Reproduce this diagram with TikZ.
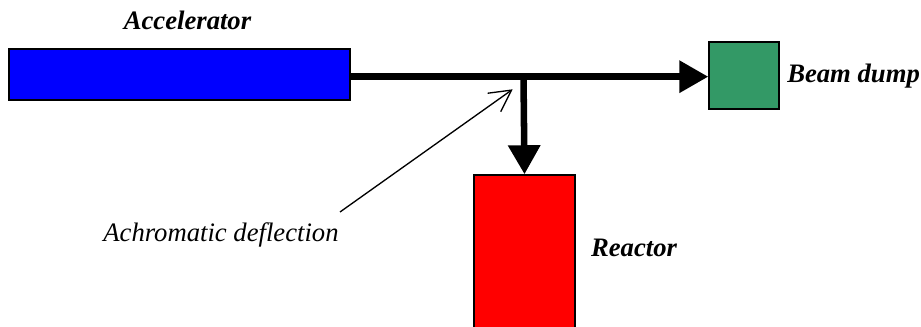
\documentclass[tikz,border=0pt]{standalone}
\usepackage{fontspec}
\setmainfont{Liberation Serif}
\usetikzlibrary{arrows.meta}
\definecolor{accblue}{HTML}{0000FF}
\definecolor{dumpgreen}{HTML}{339966}
\definecolor{reactred}{HTML}{FF0000}
\tikzset{
  box/.style={draw=black, line width=1.1pt, inner sep=0pt, rectangle},
  lbl/.style={font=\fontsize{20}{24}\selectfont\bfseries\itshape, inner sep=0pt},
  note/.style={font=\fontsize{20}{24}\selectfont\itshape, inner sep=0pt},
  beam/.style={line width=4.9pt, -{Triangle[length=21.75pt, width=23.25pt]}},
  pointer/.style={line width=1pt, -{Straight Barb[length=16pt, width=17pt, line width=1pt]}}
}
\begin{document}
\begin{tikzpicture}[x=0.75pt, y=-0.75pt]
\useasboundingbox (0,0) rectangle (921,327);
\clip (0,0) rectangle (921,327);
\node[box, fill=accblue, minimum width=255.75pt, minimum height=38.25pt] (acc) at (179.5,74.5) {};
\node[box, fill=dumpgreen, minimum width=52.5pt, minimum height=50.25pt] (dump) at (744,75.5) {};
\node[box, fill=reactred, minimum width=75.75pt, minimum height=116.25pt] (reactor) at (524.5,252.5) {};
\node[lbl] (tacc) at (187.5,20) {Accelerator};
\node[lbl, anchor=west] (tdump) at (787,76) {Beam dump};
\node[lbl] (treact) at (634,248) {Reactor};
\node[note] (tnote) at (221,235) {Achromatic deflection};
\coordinate (j) at (523.5,76.7);
\coordinate (ps) at (340,212);
\coordinate (pe) at (512.7,89.3);
\draw[beam] (acc.east |- j) -- (dump.west |- j);
\draw[beam] (j) -- (reactor.north);
\draw[pointer] (ps) -- (pe);
\end{tikzpicture}
\end{document}
